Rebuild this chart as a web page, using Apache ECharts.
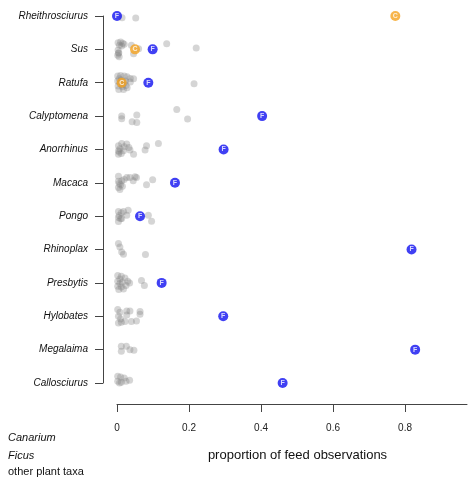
<!DOCTYPE html>
<html>
<head>
<meta charset="utf-8">
<script src="https://cdn.jsdelivr.net/npm/echarts@6/dist/echarts.min.js"></script>
<style>html,body{margin:0;padding:0;background:#fff}#chart{width:468px;height:479px}</style>
</head>
<body>
<div id="chart"></div>
<script>
// categories (top to bottom)
const categories = ['Rheithrosciurus','Sus','Ratufa','Calyptomena','Anorrhinus','Macaca','Pongo','Rhinoplax','Presbytis','Hylobates','Megalaima','Callosciurus'];
// proportion of feed observations on Ficus, per category
const ficus = [0.0, 0.099, 0.087, 0.403, 0.296, 0.161, 0.064, 0.818, 0.124, 0.295, 0.828, 0.46];
// proportion on Canarium (null = not shown)
const canarium = [0.773, 0.05, 0.013, null, null, null, null, null, null, null, null, null];
// other plant taxa: [proportion, vertical jitter in row units]
const otherRheithrosciurus = [[0.014,0.05],[0.038,-0.03],[0.052,0.06],[0.127,-0.01]];
const otherSus = [[0.003,-0.2],[0.01,-0.22],[0.016,-0.18],[0.007,-0.12],[0.013,-0.1],[0.02,-0.15],[0.003,0.02],[0.005,0.1],[0.002,0.18],[0.006,0.22],[0.004,0.12],[0.04,-0.12],[0.046,0.13],[0.06,-0.02],[0.138,-0.17],[0.22,-0.04]];
const otherRatufa = [[0.002,-0.2],[0.01,-0.22],[0.02,-0.2],[0.028,-0.18],[0.002,-0.05],[0.012,-0.08],[0.024,-0.05],[0.003,0.1],[0.015,0.12],[0.025,0.08],[0.005,0.2],[0.018,0.2],[0.028,0.15],[0.008,0.02],[0.02,0.0],[0.006,-0.12],[0.014,0.06],[0.037,-0.13],[0.046,-0.12],[0.037,-0.02],[0.214,0.03]];
const otherCalyptomena = [[0.013,0.0],[0.013,0.08],[0.042,0.17],[0.055,-0.03],[0.055,0.19],[0.166,-0.2],[0.196,0.09]];
const otherAnorrhinus = [[0.004,-0.11],[0.013,-0.18],[0.027,-0.16],[0.004,0.04],[0.018,0.04],[0.036,0.02],[0.004,0.14],[0.012,0.12],[0.046,0.14],[0.033,-0.06],[0.078,0.02],[0.082,-0.11],[0.115,-0.18],[0.008,-0.02],[0.02,-0.08],[0.006,0.08]];
const otherMacaca = [[0.004,-0.2],[0.004,0.14],[0.013,-0.06],[0.004,-0.05],[0.01,0.06],[0.027,-0.16],[0.036,-0.16],[0.05,-0.18],[0.054,-0.16],[0.045,-0.06],[0.082,0.06],[0.099,-0.09],[0.008,0.2],[0.015,0.1],[0.02,-0.1],[0.006,0.02]];
const otherPongo = [[0.004,-0.14],[0.004,0.16],[0.018,-0.14],[0.027,-0.03],[0.013,0.07],[0.031,-0.18],[0.006,-0.02],[0.01,0.08],[0.004,0.04],[0.012,-0.1],[0.087,-0.03],[0.096,0.15]];
const otherRhinoplax = [[0.004,-0.18],[0.008,-0.08],[0.013,0.07],[0.018,0.14],[0.079,0.15]];
const otherPresbytis = [[0.002,-0.22],[0.012,-0.2],[0.022,-0.15],[0.002,-0.05],[0.015,-0.02],[0.03,-0.05],[0.002,0.1],[0.012,0.12],[0.025,0.08],[0.005,0.2],[0.018,0.18],[0.035,0.0],[0.008,0.02],[0.008,-0.12],[0.068,-0.07],[0.076,0.08]];
const otherHylobates = [[0.002,-0.2],[0.008,-0.12],[0.004,0.0],[0.01,0.08],[0.004,0.2],[0.012,0.18],[0.027,-0.16],[0.036,-0.16],[0.027,-0.04],[0.022,0.16],[0.04,0.16],[0.054,0.14],[0.064,-0.14],[0.064,-0.06]];
const otherMegalaima = [[0.012,-0.1],[0.012,0.05],[0.026,-0.1],[0.036,0.0],[0.047,0.02]];
const otherCallosciurus = [[0.002,-0.2],[0.01,-0.18],[0.02,-0.15],[0.002,-0.05],[0.012,-0.02],[0.025,-0.05],[0.035,-0.08],[0.04,0.02],[0.002,0.1],[0.012,0.12],[0.025,0.08],[0.005,0.2],[0.015,0.18],[0.03,0.1],[0.007,0.0]];
const xTicks = [0, 0.2, 0.4, 0.6, 0.8];
const legendNames = ['Canarium', 'Ficus', 'other plant taxa'];

const otherByCategory = [otherRheithrosciurus, otherSus, otherRatufa, otherCalyptomena, otherAnorrhinus, otherMacaca, otherPongo, otherRhinoplax, otherPresbytis, otherHylobates, otherMegalaima, otherCallosciurus];
const otherData = [];
otherByCategory.forEach((pts, i) => pts.forEach(p => otherData.push([p[0], i + p[1]])));
const ficusData = ficus.map((v, i) => [v, i]);
const canariumData = [];
canarium.forEach((v, i) => { if (v !== null) canariumData.push([v, i]); });

const FONT = '"Liberation Sans", Arial, Helvetica, sans-serif';
const legendY = [439, 456.5, 473];
const legendText = legendNames.map((n, i) => ({
  type: 'text', left: 8, top: legendY[i] - 6.5, silent: true,
  style: {text: n, fill: '#111', fontSize: 11, fontFamily: FONT,
    fontStyle: n === 'other plant taxa' ? 'normal' : 'italic'}
}));

const chart = echarts.init(document.getElementById('chart'), null, {renderer: 'canvas'});
chart.setOption({
  animation: false,
  backgroundColor: '#ffffff',
  textStyle: {fontFamily: FONT},
  grid: {left: 117, right: 1, top: 16, bottom: 96},
  graphic: legendText,
  xAxis: {
    type: 'value', min: 0, max: 0.972, interval: 0.2, offset: 21,
    name: 'proportion of feed observations', nameLocation: 'middle', nameGap: 45,
    nameTextStyle: {fontSize: 13, color: '#111', fontFamily: FONT, padding: [0, 0, 0, 11]},
    axisLine: {show: true, onZero: false, lineStyle: {color: '#444', width: 1}},
    axisTick: {show: true, length: 8, customValues: xTicks, lineStyle: {color: '#444'}},
    axisLabel: {customValues: xTicks, margin: 19, fontSize: 10, color: '#222', fontFamily: FONT,
      formatter: v => String(v)},
    splitLine: {show: false}
  },
  yAxis: {
    type: 'value', min: 0, max: categories.length - 1, interval: 1, inverse: true, offset: 14,
    axisLine: {show: true, onZero: false, lineStyle: {color: '#444', width: 1}},
    axisTick: {show: true, length: 8, lineStyle: {color: '#444'}},
    axisLabel: {margin: 15, fontSize: 10, fontStyle: 'italic', color: '#111', fontFamily: FONT,
      formatter: v => categories[Math.round(v)] || ''},
    splitLine: {show: false}
  },
  series: [
    {
      name: legendNames[2], type: 'scatter', data: otherData, symbolSize: 7,
      itemStyle: {color: 'rgba(130,130,130,0.42)'}, z: 2
    },
    {
      name: legendNames[1], type: 'scatter', data: ficusData, symbolSize: 10,
      itemStyle: {color: '#1010f0'}, z: 3,
      label: {show: true, position: 'inside', formatter: 'F', color: '#fff', fontSize: 7, fontWeight: 'bold', fontFamily: FONT}
    },
    {
      name: legendNames[0], type: 'scatter', data: canariumData, symbolSize: 10,
      itemStyle: {color: '#f5a21f'}, z: 4,
      label: {show: true, position: 'inside', formatter: 'C', color: '#fff', fontSize: 7, fontWeight: 'bold', fontFamily: FONT}
    }
  ]
});
</script>
</body>
</html>
